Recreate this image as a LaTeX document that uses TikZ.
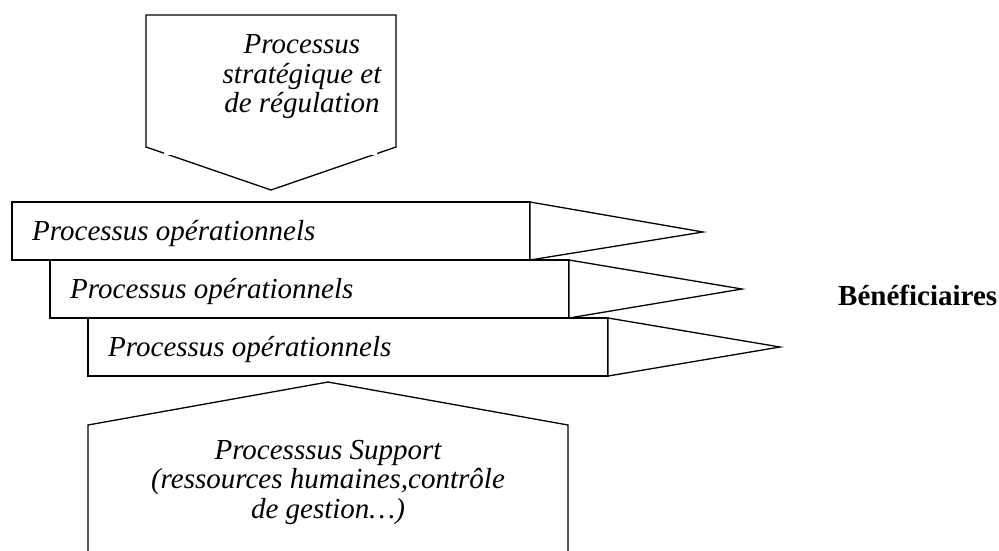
\documentclass[tikz,border=0pt]{standalone}
\usepackage{fontspec}
\setmainfont{Liberation Serif}
\begin{document}
\begin{tikzpicture}[x=1pt,y=-1pt,
  shapebox/.style={draw, fill=white, line width=1.3pt, line join=miter},
  lbl/.style={font=\fontsize{29}{29.5}\selectfont\itshape, align=center, inner sep=0pt},
  oplbl/.style={font=\fontsize{29}{29}\selectfont\itshape, anchor=base west, inner sep=0pt},
  benef/.style={font=\fontsize{29}{29}\selectfont\bfseries, anchor=base west, inner sep=0pt}]
\useasboundingbox (0,0) rectangle (999,550);
% top strategic process (downward pentagon)
\draw[shapebox] (146,15) -- (396,15) -- (396,147) -- (271,190) -- (146,147) -- cycle;
\fill[white] (164,25) rectangle (377,155);
\node[lbl] (strat) at (302,77) {Processus\\stratégique et\\de régulation};
% operational processes
\draw[shapebox] (12,202) rectangle (530,260);
\draw[shapebox] (530,202) -- (703,232) -- (530,260) -- cycle;
\draw[shapebox] (50,260) rectangle (569,318);
\draw[shapebox] (569,260) -- (742,289) -- (569,318) -- cycle;
\draw[shapebox] (88,318) rectangle (608,376);
\draw[shapebox] (608,318) -- (780,347) -- (608,376) -- cycle;
\node[oplbl] (op1) at (32,240) {Processus opérationnels};
\node[oplbl] (op2) at (70,298) {Processus opérationnels};
\node[oplbl] (op3) at (108,356) {Processus opérationnels};
% support process (upward pentagon)
\draw[shapebox] (88,560) -- (88,425) -- (328,382) -- (568,425) -- (568,560);
\node[lbl] (supp) at (328,482) {Processsus Support\\(ressources humaines,contrôle\\de gestion\dots)};
% beneficiaries
\node[benef] (benef) at (838,305) {Bénéficiaires};
\end{tikzpicture}
\end{document}
